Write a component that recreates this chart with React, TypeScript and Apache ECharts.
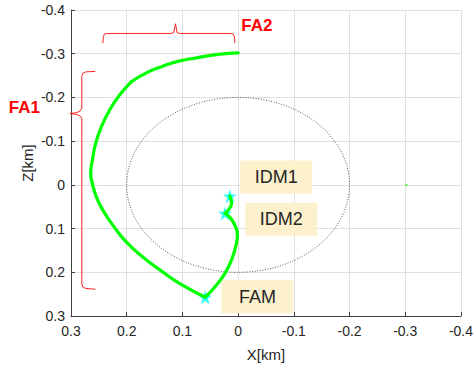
import React, { useEffect, useRef } from "react";
import * as echarts from "echarts";

// Axis ranges (km)
const xRange = { min: -0.4, max: 0.3, interval: 0.1 };
const zRange = { min: -0.4, max: 0.3, interval: 0.1 };

// Trajectory (X, Z) in km: IDM1 -> IDM2 -> FAM -> large arc -> end
const trajX = [
  0.0147, 0.0119, 0.0178, 0.0236, 0.0147, 0.0059, 0.0012, 0.003, 0.0119, 0.0236, 0.0414,
  0.0591, 0.1007, 0.1362, 0.1717, 0.2013, 0.225, 0.2428, 0.2545, 0.2616, 0.2647, 0.2616,
  0.2558, 0.2456, 0.2309, 0.2131, 0.1924, 0.1657, 0.1362, 0.1066, 0.0769, 0.0355, 0.0,
];
const trajZ = [
  0.0258, 0.0425, 0.0578, 0.0653, 0.0744, 0.092, 0.1148, 0.134, 0.172, 0.2023, 0.233,
  0.257, 0.229, 0.1986, 0.1644, 0.13, 0.092, 0.0578, 0.0274, -0.003, -0.026, -0.0564,
  -0.0945, -0.1324, -0.1705, -0.2048, -0.2352, -0.2557, -0.271, -0.283, -0.29, -0.2984,
  -0.302,
];
// indices where the trajectory has a sharp corner (IDM2, FAM, kink)
const cornerIdx = [3, 11, 26];

// Manoeuvre points
const starX = [0.0147, 0.0236, 0.0591];
const starZ = [0.0258, 0.0653, 0.257];

// Small isolated point
const dotX = [-0.302];
const dotZ = [0.0];

// Keep-out ellipse
const ellipseCenter = [0, 0];
const ellipseRadius = [0.2, 0.2];

// Braces
const braceFA1X = [
  0.2563, 0.2735, 0.2789, 0.2806, 0.2806, 0.2842, 0.2913, 0.305, 0.2913, 0.2842, 0.2806,
  0.2806, 0.2789, 0.2735, 0.2563,
];
const braceFA1Z = [
  -0.2596, -0.2584, -0.255, -0.2482, -0.1751, -0.1683, -0.1648, -0.163, -0.1614, -0.158,
  -0.1523, 0.2267, 0.2336, 0.237, 0.2388,
];
const braceFA2X = [
  0.2428, 0.2419, 0.2398, 0.2345, 0.1208, 0.1154, 0.1124, 0.1096, 0.1048, 0.0142, 0.0089,
  0.0067, 0.0059,
];
const braceFA2Z = [
  -0.3242, -0.3395, -0.3452, -0.3463, -0.3463, -0.3486, -0.3685, -0.3486, -0.3463,
  -0.3463, -0.3452, -0.3395, -0.3242,
];

// Boxed labels
const boxLabels = ["IDM1", "IDM2", "FAM"];
const boxX = [-0.0684, -0.0776, -0.0346];
const boxZ = [-0.018, 0.0788, 0.2557];

// Red brace labels
const redLabels = ["FA1", "FA2"];
const redX = [0.3837, -0.0337];
const redZ = [-0.178, -0.3646];

const FONT = "'Liberation Sans', Arial, sans-serif";
const STAR =
  "path://M50,0 L61.8,35.4 L98.9,35.4 L68.9,57.3 L80.3,92.7 L50,70.8 L19.7,92.7 L31.1,57.3 L1.1,35.4 L38.2,35.4 Z";

const zip = (a: number[], b: number[]) => a.map((v, i) => [v, b[i]]);

export default function App() {
  const ref = useRef<HTMLDivElement>(null);
  useEffect(() => {
    if (!ref.current) return;
    const chart = echarts.init(ref.current, null, { renderer: "svg" });
    const axisCommon = {
      type: "value" as const,
      inverse: true,
      nameLocation: "middle" as const,
      nameMoveOverlap: false,
      nameTextStyle: { color: "#262626", fontSize: 15, fontFamily: FONT },
      axisLine: { show: true, onZero: false, lineStyle: { color: "#404040", width: 1 } },
      axisTick: { show: true, inside: true, length: 4, lineStyle: { color: "#404040" } },
      axisLabel: { color: "#262626", fontSize: 14, fontFamily: FONT },
      splitLine: { show: true, lineStyle: { color: "#dfdfdf", width: 1 } },
    };
    const traj = zip(trajX, trajZ);
    const bounds = [0, ...cornerIdx, traj.length - 1];
    const trajSeries = bounds.slice(0, -1).map((b, i) => ({
      type: "line",
      data: traj.slice(b, bounds[i + 1] + 1),
      smooth: 0.5,
      showSymbol: false,
      clip: false,
      lineStyle: { color: "#00ff00", width: 3.2, cap: "round", join: "round" },
    }));
    chart.setOption({
      animation: false,
      backgroundColor: "#ffffff",
      grid: { left: 71, right: 11, top: 10, bottom: 53, containLabel: false },
      xAxis: {
        ...axisCommon,
        ...xRange,
        name: "X[km]",
        nameGap: 31,
        axisLabel: { ...axisCommon.axisLabel, margin: 8 },
      },
      yAxis: {
        ...axisCommon,
        ...zRange,
        name: "Z[km]",
        nameGap: 36,
        axisLabel: { ...axisCommon.axisLabel, margin: 6 },
      },
      series: [
        {
          type: "custom",
          data: [ellipseCenter],
          silent: true,
          renderItem: (_p: any, api: any) => {
            const c = api.coord([api.value(0), api.value(1)]);
            const s = api.size(ellipseRadius);
            return {
              type: "ellipse",
              shape: { cx: c[0], cy: c[1], rx: s[0], ry: s[1] },
              style: { fill: "none", stroke: "#5a5a5a", lineWidth: 1, lineDash: [1, 1.6] },
            };
          },
        },
        ...trajSeries,
        {
          type: "scatter",
          data: zip(dotX, dotZ),
          symbol: "rect",
          symbolSize: 2,
          itemStyle: { color: "#00ff00" },
        },
        {
          type: "scatter",
          data: zip(starX, starZ),
          symbol: STAR,
          symbolSize: 14,
          itemStyle: { color: "#00ffff" },
        },
        {
          type: "line",
          data: zip(braceFA1X, braceFA1Z),
          showSymbol: false,
          clip: false,
          lineStyle: { color: "#ff2020", width: 1 },
        },
        {
          type: "line",
          data: zip(braceFA2X, braceFA2Z),
          showSymbol: false,
          clip: false,
          lineStyle: { color: "#ff2020", width: 1 },
        },
        {
          type: "custom",
          data: zip(boxX, boxZ),
          clip: false,
          renderItem: (p: any, api: any) => {
            const c = api.coord([api.value(0), api.value(1)]);
            const w = 72;
            const h = 33;
            return {
              type: "group",
              children: [
                {
                  type: "rect",
                  shape: { x: c[0] - w / 2, y: c[1] - h / 2, width: w, height: h },
                  style: { fill: "#fdf0cd" },
                },
                {
                  type: "text",
                  style: {
                    text: boxLabels[p.dataIndex],
                    x: c[0],
                    y: c[1],
                    align: "center",
                    verticalAlign: "middle",
                    fill: "#262626",
                    fontSize: 18,
                    fontFamily: FONT,
                  },
                },
              ],
            };
          },
        },
        {
          type: "custom",
          data: zip(redX, redZ),
          clip: false,
          renderItem: (p: any, api: any) => {
            const c = api.coord([api.value(0), api.value(1)]);
            return {
              type: "text",
              style: {
                text: redLabels[p.dataIndex],
                x: c[0],
                y: c[1],
                align: "center",
                verticalAlign: "middle",
                fill: "#ff0000",
                fontSize: 17,
                fontWeight: "bold",
                fontFamily: FONT,
              },
            };
          },
        },
      ],
    });
    return () => chart.dispose();
  }, []);
  return (
    <div
      ref={ref}
      style={{ position: "absolute", left: 0, top: 0, width: 476, height: 369 }}
    />
  );
}
